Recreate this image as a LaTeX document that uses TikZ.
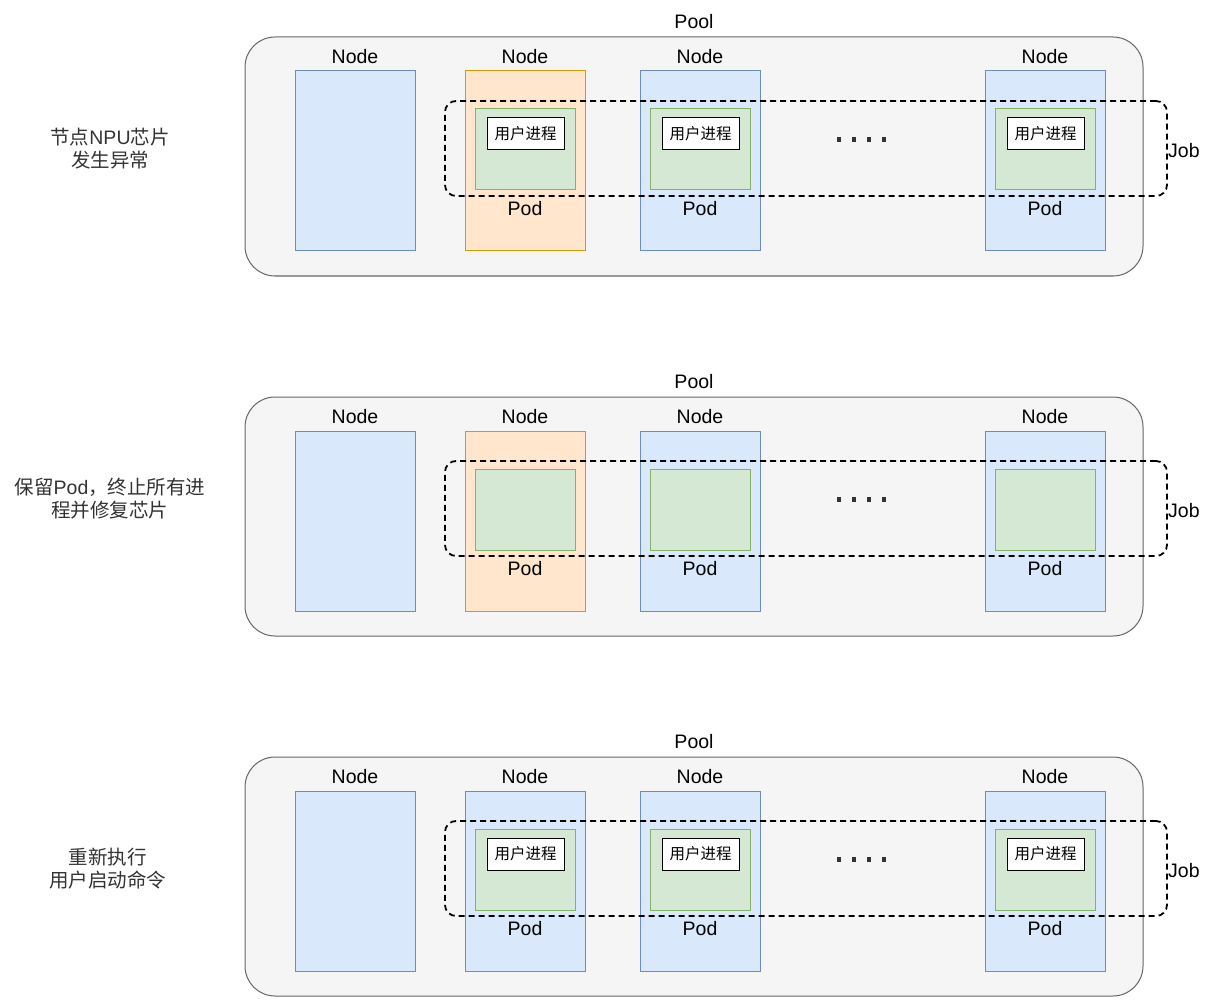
\documentclass[tikz,border=0pt]{standalone}
\usepackage{fontspec}
\setmainfont{Liberation Sans}
\newfontfamily\cjk{Noto Sans CJK SC}
\definecolor{poolfill}{HTML}{F5F5F5}
\definecolor{pooldraw}{HTML}{666666}
\definecolor{bluefill}{HTML}{DAE8FC}
\definecolor{bluedraw}{HTML}{6C8EBF}
\definecolor{orfill}{HTML}{FFE6CC}
\definecolor{ordraw}{HTML}{D79B00}
\definecolor{grfill}{HTML}{D5E8D4}
\definecolor{grdraw}{HTML}{82B366}
\definecolor{sidetext}{HTML}{333333}
\tikzset{
  poolbox/.style={draw=pooldraw, fill=poolfill, line width=1pt, rounded corners=30pt, minimum width=898pt, minimum height=239pt, inner sep=0pt},
  bluenode/.style={draw=bluedraw, fill=bluefill, line width=1pt, minimum width=120pt, minimum height=180pt, inner sep=0pt},
  orangenode/.style={draw=ordraw, fill=orfill, line width=1pt, minimum width=120pt, minimum height=180pt, inner sep=0pt},
  podbox/.style={draw=grdraw, fill=grfill, line width=1pt, minimum width=100pt, minimum height=81pt, inner sep=0pt},
  procbox/.style={draw=black, fill=white, line width=1pt, minimum width=77pt, minimum height=32pt, inner sep=0pt, font=\cjk\fontsize{15.5}{18}\selectfont},
  jobbox/.style={draw=black, line width=1.8pt, dash pattern=on 6pt off 4pt, rounded corners=11pt, minimum width=722pt, minimum height=95pt, inner sep=0pt},
  lbl/.style={inner sep=0pt, font=\fontsize{19.5}{22}\selectfont, text=black},
  sidelbl/.style={inner sep=0pt, align=center, text=sidetext, font=\cjk\fontsize{19.5}{23}\selectfont},
  dotsq/.style={fill=sidetext, draw=none, minimum size=4.5pt, inner sep=0pt},
}
\newcommand\latin[1]{{\fontspec{Liberation Sans}#1}}
\newcommand\drawpanel[4]{%
\begin{scope}[shift={(0,#2)}]
  \node[poolbox] (pool#1) at (694,156.5) {};
  \node[lbl] (pooltxt#1) at (694,22) {Pool};
  \node[bluenode] (na#1) at (355,161) {};
  \node[#3] (nb#1) at (525,161) {};
  \node[bluenode] (nc#1) at (700,161) {};
  \node[bluenode] (nd#1) at (1045,161) {};
  \node[lbl] (nat#1) at (355,57) {Node};
  \node[lbl] (nbt#1) at (525,57) {Node};
  \node[lbl] (nct#1) at (700,57) {Node};
  \node[lbl] (ndt#1) at (1045,57) {Node};
  \node[podbox] (pb#1) at (525,149.5) {};
  \node[podbox] (pc#1) at (700,149.5) {};
  \node[podbox] (pd#1) at (1045,149.5) {};
  \node[lbl] (pbt#1) at (525,209) {Pod};
  \node[lbl] (pct#1) at (700,209) {Pod};
  \node[lbl] (pdt#1) at (1045,209) {Pod};
  \node[dotsq] (d1#1) at (839,139.5) {};
  \node[dotsq] (d2#1) at (854,139.5) {};
  \node[dotsq] (d3#1) at (869,139.5) {};
  \node[dotsq] (d4#1) at (884,139.5) {};
  \node[jobbox] (job#1) at (806,148.5) {};
  \node[lbl, anchor=west] (jobt#1) at (1168,151) {Job};
  \node[sidelbl] (side#1) at (#4) {\sidetextstr};
\end{scope}}
\newcommand\drawprocs[2]{%
\begin{scope}[shift={(0,#2)}]
  \node[procbox] (prb#1) at (525.5,134) {用户进程};
  \node[procbox] (prc#1) at (700.5,134) {用户进程};
  \node[procbox] (prd#1) at (1045.5,134) {用户进程};
\end{scope}}
\begin{document}
\begin{tikzpicture}[x=1pt,y=-1pt]
\useasboundingbox (0,0) rectangle (1212,1008);
\def\sidetextstr{节点\latin{NPU}芯片\\发生异常}
\drawpanel{1}{0}{orangenode}{110,149}
\drawprocs{1}{0}
\def\sidetextstr{保留\latin{Pod}，终止所有进\\程并修复芯片}
\drawpanel{2}{360}{orangenode}{110,139}
\def\sidetextstr{重新执行\\用户启动命令}
\drawpanel{3}{720}{bluenode}{107.5,149}
\drawprocs{3}{720}
\end{tikzpicture}
\end{document}
